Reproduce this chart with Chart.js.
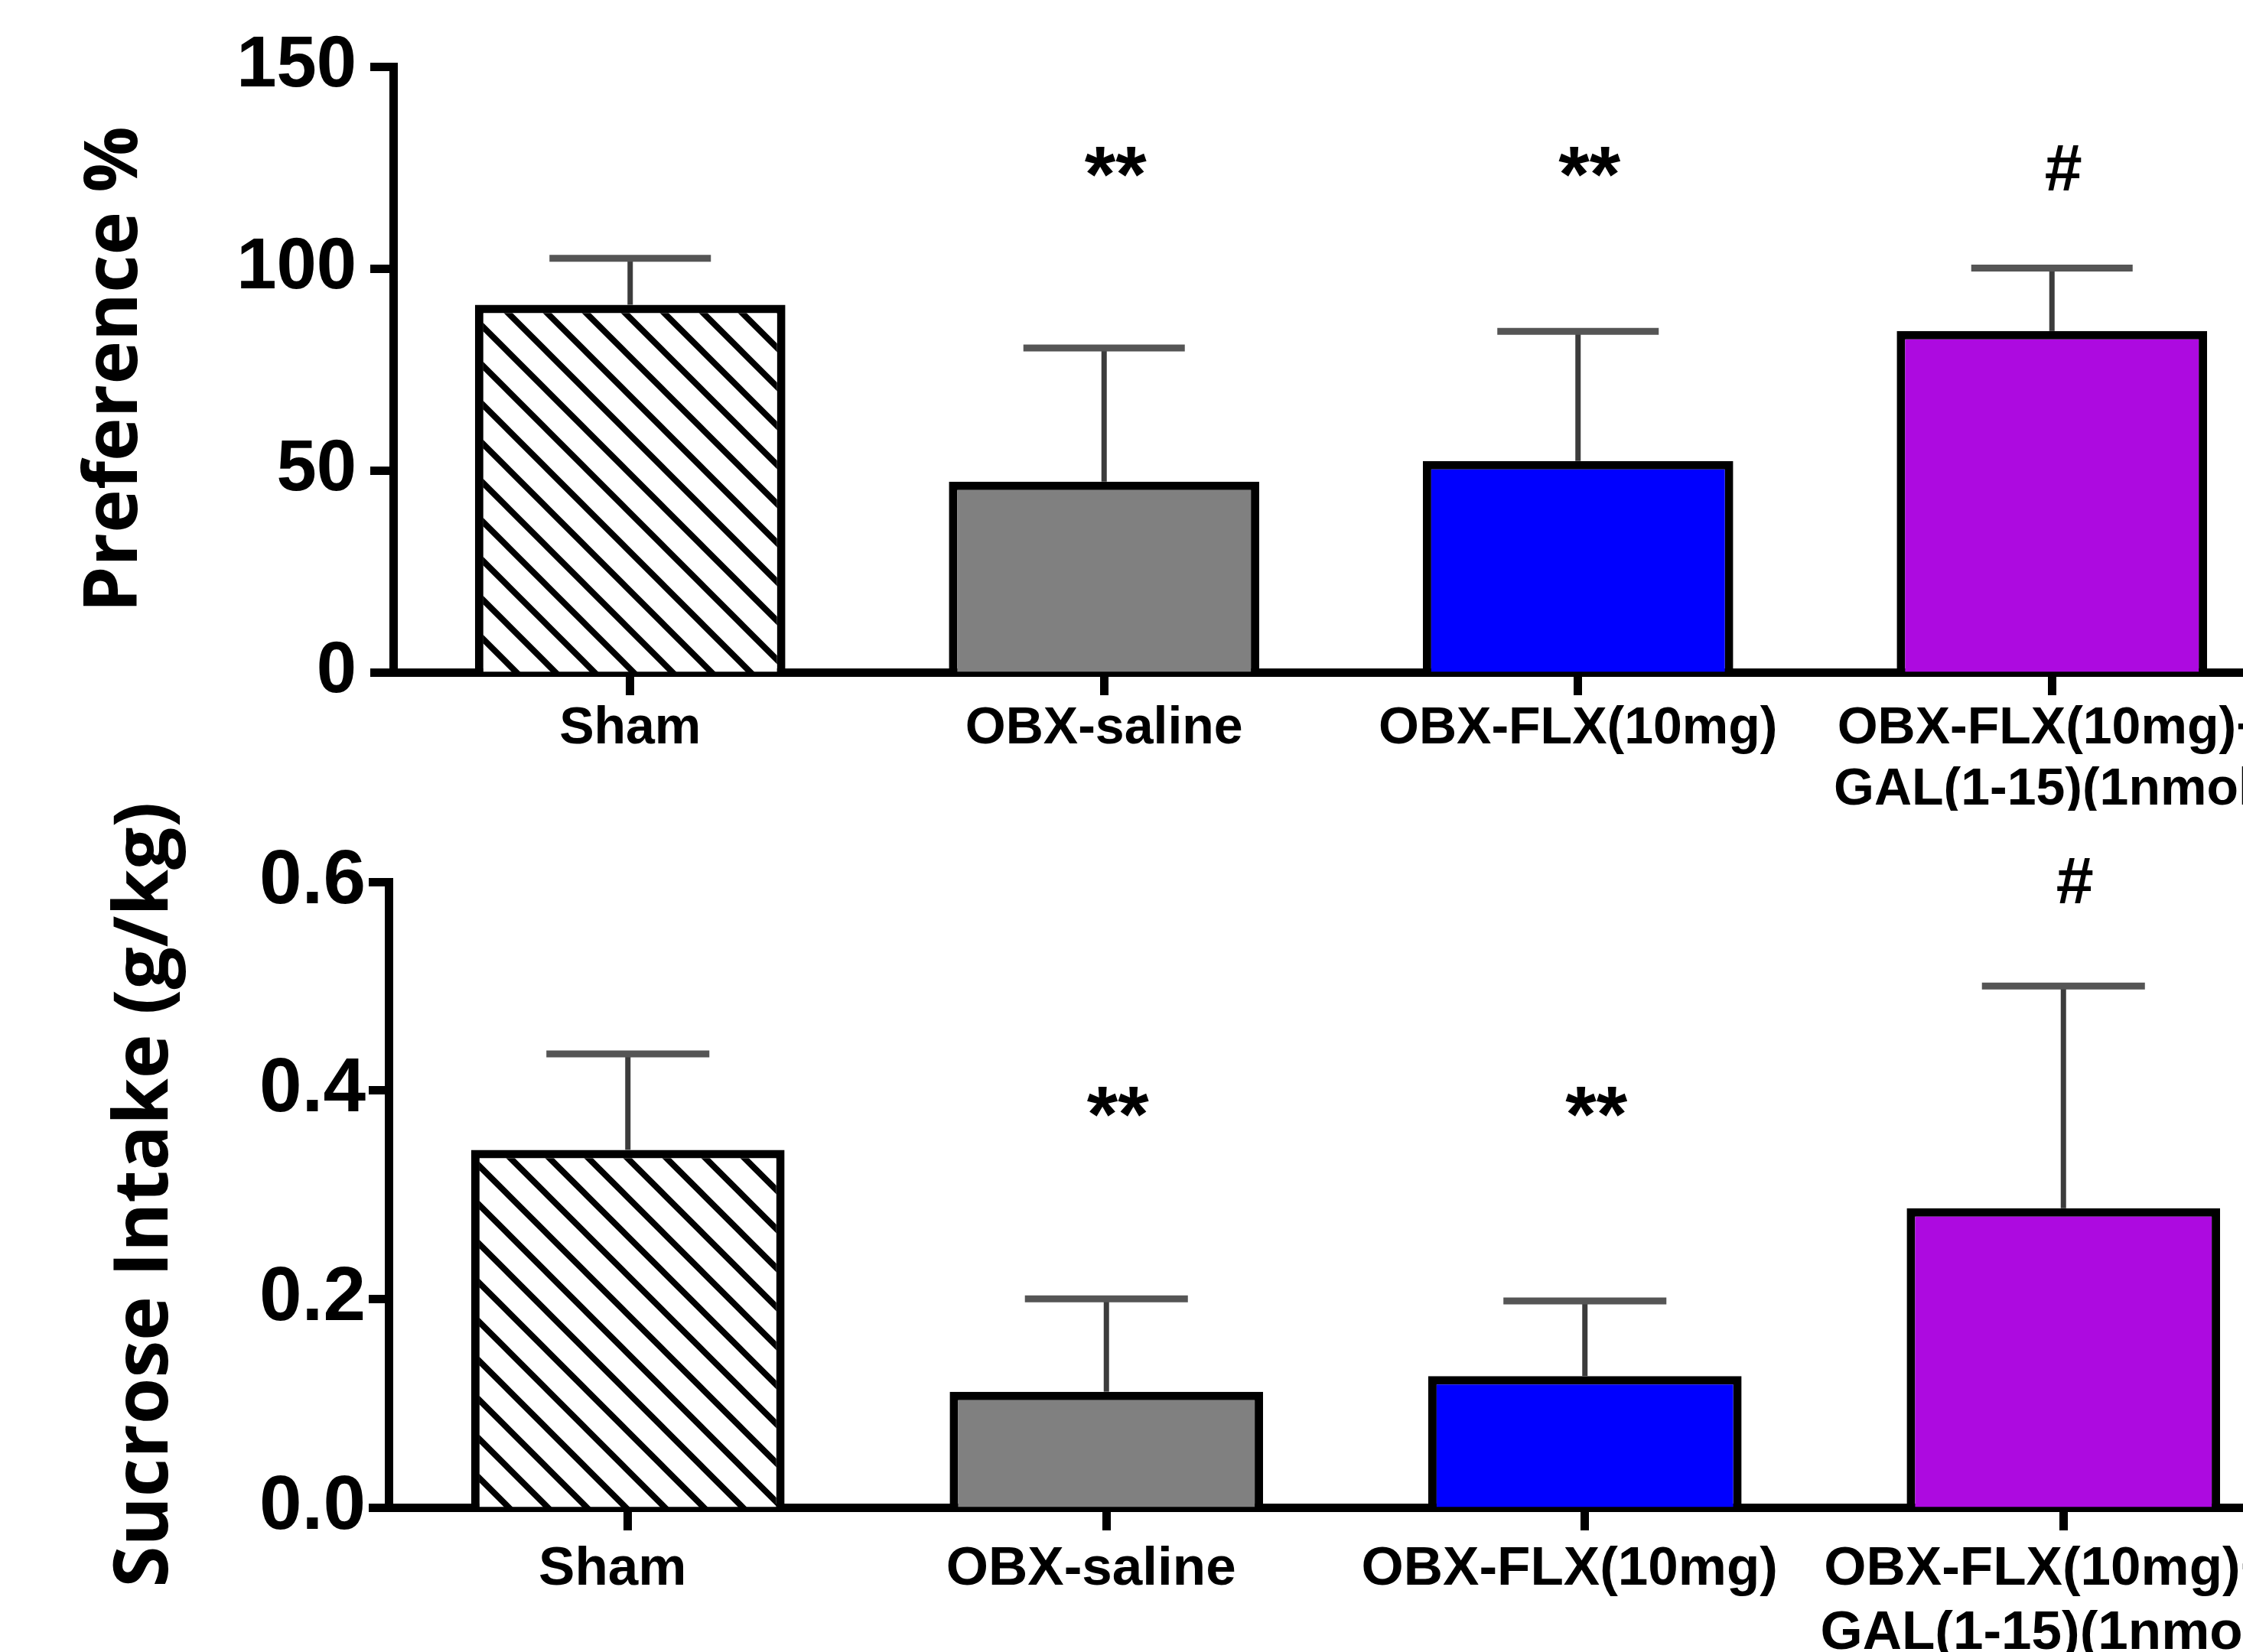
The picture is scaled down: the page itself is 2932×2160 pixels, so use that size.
<!DOCTYPE html>
<html>
<head>
<meta charset="utf-8">
<script src="https://cdn.jsdelivr.net/npm/chart.js@4.4.1/dist/chart.umd.min.js"></script>
<style>
  html, body { margin: 0; padding: 0; overflow: hidden; background: #fff; width: 2932px; height: 2160px; }
  #graficaPreferencia { position: absolute; left: 0; top: 0; }
  #graficaIngesta { position: absolute; left: 0; top: 1000px; }
</style>
</head>
<body>
<canvas id="graficaPreferencia" width="3100" height="1060"></canvas>
<canvas id="graficaIngesta" width="3100" height="1160"></canvas>
<script>
// datos
const grupos = ['Sham', 'OBX-saline', 'OBX-FLX(10mg)', ['OBX-FLX(10mg)+', 'GAL(1-15)(1nmol)']];

const preferencia = [91, 47.2, 52.3, 84.5];
const preferenciaErr = [11.5, 33.1, 32.1, 15.6];
const preferenciaMarcas = ['', '**', '**', '#'];
const preferenciaMarcasY = [null, 122, 122, 124];
const preferenciaTicks = [0, 50, 100, 150];

const ingesta = [0.343, 0.111, 0.126, 0.287];
const ingestaErr = [0.092, 0.089, 0.072, 0.213];
const ingestaMarcas = ['', '**', '**', '#'];
const ingestaMarcasY = [null, 0.372, 0.372, 0.597];
const ingestaTicks = [0, 0.2, 0.4, 0.6];

const colores = ['hatch', '#808080', '#0000ff', '#ad0ae0'];
const ARIAL = '"Liberation Sans", Arial, sans-serif';

// relleno rayado para Sham
function rayado() {
  const s = 51;
  const c = document.createElement('canvas');
  c.width = s; c.height = s;
  const g = c.getContext('2d');
  g.fillStyle = '#fff';
  g.fillRect(0, 0, s, s);
  g.strokeStyle = '#000';
  g.lineWidth = 8;
  g.beginPath();
  for (const k of [-1, 0, 1]) {
    g.moveTo(k * s - 6, -6);
    g.lineTo(k * s + s + 6, s + 6);
  }
  g.stroke();
  return g.createPattern(c, 'repeat');
}

// barras de error + asteriscos
function barrasError(err, marcas, marcasY) {
  return {
    id: 'barrasError',
    afterDatasetsDraw(chart) {
      const ctx = chart.ctx;
      const y = chart.scales.y;
      const meta = chart.getDatasetMeta(0);
      const valores = chart.data.datasets[0].data;
      ctx.save();
      meta.data.forEach((bar, i) => {
        const tope = y.getPixelForValue(valores[i] + err[i]);
        const medio = bar.width * 0.26;
        ctx.strokeStyle = '#3c3c3c';
        ctx.lineWidth = 7;
        ctx.beginPath();
        ctx.moveTo(bar.x, bar.y);
        ctx.lineTo(bar.x, tope);
        ctx.stroke();
        ctx.strokeStyle = '#555';
        ctx.lineWidth = 9;
        ctx.beginPath();
        ctx.moveTo(bar.x - medio, tope);
        ctx.lineTo(bar.x + medio, tope);
        ctx.stroke();
      });
      ctx.fillStyle = '#000';
      ctx.textAlign = 'center';
      ctx.textBaseline = 'middle';
      marcas.forEach((m, i) => {
        if (!m) return;
        ctx.font = 'bold ' + (m.includes('*') ? 104 : 88) + 'px ' + ARIAL;
        ctx.fillText(m, meta.data[i].x + 15, y.getPixelForValue(marcasY[i]));
      });
      ctx.restore();
    }
  };
}

function grafica(id, valores, err, marcas, marcasY, ticks, cfg) {
  const ctx = document.getElementById(id).getContext('2d');
  const fondo = colores.map(c => c === 'hatch' ? rayado() : c);
  return new Chart(ctx, {
    type: 'bar',
    data: {
      labels: grupos,
      datasets: [{
        data: valores,
        backgroundColor: fondo,
        borderColor: '#000',
        borderWidth: 11,
        barPercentage: 0.655,
        categoryPercentage: 1
      }]
    },
    plugins: [barrasError(err, marcas, marcasY)],
    options: {
      responsive: false,
      animation: false,
      events: [],
      layout: { padding: { left: 0, top: cfg.top, right: cfg.right, bottom: 0 } },
      plugins: { legend: { display: false }, tooltip: { enabled: false } },
      scales: {
        x: {
          offset: true,
          grid: { display: true, drawOnChartArea: false, drawTicks: true, tickLength: 30, tickWidth: 11, tickColor: '#000', offset: false },
          border: { display: true, color: '#000', width: 11 },
          ticks: {
            color: '#000',
            font: { family: ARIAL, weight: 'bold', size: cfg.xFont, lineHeight: 1.18 },
            padding: cfg.xPad,
            labelOffset: cfg.xShift,
            maxRotation: 0,
            autoSkip: false
          },
          afterFit: s => { s.height = cfg.xHeight; }
        },
        y: {
          min: ticks[0],
          max: ticks[ticks.length - 1],
          afterBuildTicks: s => { s.ticks = ticks.map(v => ({ value: v })); },
          grid: { display: true, drawOnChartArea: false, drawTicks: true, tickLength: cfg.tl, tickWidth: 11, tickColor: '#000' },
          border: { display: true, color: '#000', width: 11 },
          ticks: {
            color: '#000',
            font: { family: ARIAL, weight: 'bold', size: cfg.yFont },
            padding: cfg.yPad,
            callback: cfg.fmt
          },
          title: {
            display: true,
            text: cfg.titulo,
            color: '#000',
            font: { family: '"Open Sans", sans-serif', weight: 'bold', size: cfg.tituloSize },
            padding: { top: cfg.tituloPad, bottom: 0 }
          },
          afterFit: s => { s.width = cfg.left; }
        }
      }
    }
  });
}

grafica('graficaPreferencia', preferencia, preferenciaErr, preferenciaMarcas, preferenciaMarcasY, preferenciaTicks, {
  top: 87, right: 3100 - 2992, left: 514, xHeight: 1060 - 879,
  xFont: 68, xPad: 4, xShift: 0, yFont: 94, yPad: 18, tl: 30,
  titulo: 'Preference %', tituloSize: 96, tituloPad: 94,
  fmt: v => String(v)
});

grafica('graficaIngesta', ingesta, ingestaErr, ingestaMarcas, ingestaMarcasY, ingestaTicks, {
  top: 153, right: 3100 - 3010, left: 508, xHeight: 1160 - 971,
  xFont: 71, xPad: 10, xShift: -20, yFont: 100, yPad: 4, tl: 26,
  titulo: 'Sucrose Intake (g/kg)', tituloSize: 98, tituloPad: 132,
  fmt: v => Number(v).toFixed(1)
});
</script>
</body>
</html>
